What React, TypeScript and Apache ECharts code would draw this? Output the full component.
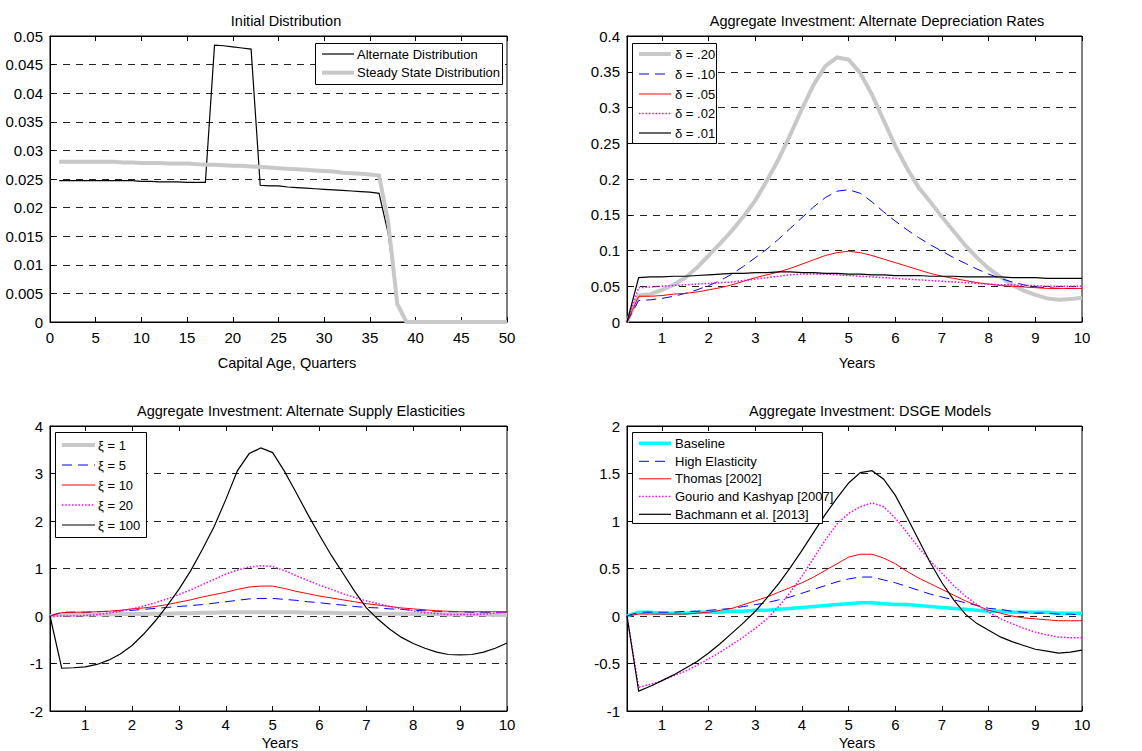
import React, { useEffect, useRef } from "react";
import * as echarts from "echarts";

const FONT = "'Liberation Sans', Arial, Helvetica, sans-serif";

// ---------- Panel 1: Initial Distribution ----------
const ages = [1,2,3,4,5,6,7,8,9,10,11,12,13,14,15,16,17,18,19,20,21,22,23,24,25,26,27,28,29,30,31,32,33,34,35,36,37,38,39,40,41,42,43,44,45,46,47,48,49,50];
const altDist = [0.0247,0.0247,0.0247,0.0247,0.0247,0.0247,0.0247,0.0247,0.0247,0.0246,0.0246,0.0245,0.0245,0.0245,0.0244,0.0244,0.0244,0.0484,0.0483,0.0481,0.0479,0.0477,0.0239,0.0238,0.0238,0.0236,0.0235,0.0234,0.0233,0.0232,0.0231,0.0230,0.0229,0.0228,0.0227,0.0225,0.0155,0.0030,0,0,0,0,0,0,0,0,0,0,0,0];
const ssDist = [0.0280,0.0280,0.0280,0.0280,0.0280,0.0280,0.0280,0.0279,0.0279,0.0278,0.0278,0.0278,0.0277,0.0277,0.0277,0.0276,0.0275,0.0275,0.0274,0.0273,0.0273,0.0272,0.0271,0.0270,0.0269,0.0268,0.0267,0.0266,0.0265,0.0264,0.0263,0.0261,0.0260,0.0259,0.0258,0.0256,0.0175,0.0031,0,0,0,0,0,0,0,0,0,0,0,0];

// ---------- Quarterly horizon (years) ----------
const years = [0.25,0.5,0.75,1,1.25,1.5,1.75,2,2.25,2.5,2.75,3,3.25,3.5,3.75,4,4.25,4.5,4.75,5,5.25,5.5,5.75,6,6.25,6.5,6.75,7,7.25,7.5,7.75,8,8.25,8.5,8.75,9,9.25,9.5,9.75,10];
const yearTicks = [1,2,3,4,5,6,7,8,9,10];

// ---------- Panel 2: Alternate Depreciation Rates ----------
const delta20 = [0,0.037,0.039,0.045,0.052,0.062,0.076,0.093,0.110,0.128,0.148,0.170,0.198,0.228,0.262,0.298,0.332,0.358,0.370,0.367,0.348,0.318,0.282,0.246,0.215,0.188,0.168,0.147,0.127,0.107,0.090,0.075,0.063,0.052,0.044,0.038,0.033,0.031,0.032,0.034];
const delta10 = [0,0.030,0.031,0.033,0.036,0.040,0.045,0.051,0.058,0.067,0.078,0.090,0.102,0.116,0.131,0.146,0.161,0.174,0.183,0.185,0.180,0.168,0.154,0.141,0.129,0.118,0.108,0.099,0.090,0.082,0.074,0.067,0.061,0.056,0.052,0.049,0.048,0.047,0.047,0.047];
const delta05 = [0,0.036,0.036,0.037,0.039,0.040,0.042,0.045,0.048,0.052,0.057,0.062,0.066,0.070,0.075,0.081,0.087,0.093,0.097,0.099,0.097,0.093,0.088,0.083,0.078,0.073,0.068,0.064,0.061,0.058,0.055,0.053,0.051,0.050,0.049,0.048,0.047,0.047,0.047,0.047];
const delta02 = [0,0.048,0.049,0.050,0.051,0.052,0.053,0.054,0.055,0.056,0.058,0.060,0.062,0.064,0.066,0.067,0.067,0.067,0.066,0.065,0.064,0.063,0.062,0.061,0.060,0.059,0.058,0.057,0.056,0.055,0.054,0.053,0.052,0.052,0.051,0.051,0.050,0.050,0.050,0.050];
const delta01 = [0,0.062,0.063,0.063,0.064,0.064,0.065,0.066,0.067,0.068,0.068,0.069,0.069,0.070,0.070,0.069,0.069,0.068,0.068,0.067,0.067,0.066,0.066,0.065,0.065,0.065,0.064,0.064,0.064,0.063,0.063,0.063,0.063,0.062,0.062,0.062,0.061,0.061,0.061,0.061];

// ---------- Panel 3: Alternate Supply Elasticities ----------
const xi1 = [0,0.03,0.03,0.03,0.03,0.03,0.04,0.04,0.04,0.05,0.05,0.06,0.06,0.07,0.07,0.08,0.08,0.08,0.08,0.08,0.08,0.08,0.07,0.07,0.07,0.06,0.06,0.06,0.05,0.05,0.05,0.04,0.04,0.04,0.03,0.03,0.03,0.03,0.02,0.02];
const xi5 = [0,0.08,0.08,0.08,0.09,0.10,0.11,0.12,0.14,0.16,0.18,0.20,0.22,0.24,0.27,0.30,0.33,0.36,0.37,0.37,0.35,0.33,0.30,0.28,0.25,0.23,0.20,0.18,0.17,0.15,0.14,0.12,0.11,0.10,0.09,0.09,0.08,0.08,0.08,0.08];
const xi10 = [0,0.07,0.08,0.08,0.09,0.10,0.12,0.15,0.17,0.20,0.24,0.29,0.34,0.40,0.45,0.50,0.56,0.61,0.63,0.63,0.58,0.52,0.47,0.42,0.38,0.34,0.30,0.26,0.23,0.20,0.17,0.15,0.13,0.11,0.10,0.09,0.09,0.09,0.09,0.09];
const xi20 = [0,0.0,0.0,0.01,0.03,0.06,0.10,0.15,0.21,0.28,0.36,0.45,0.55,0.66,0.77,0.88,0.97,1.03,1.06,1.04,0.96,0.85,0.75,0.65,0.56,0.47,0.39,0.32,0.26,0.20,0.15,0.11,0.07,0.05,0.03,0.03,0.03,0.04,0.06,0.08];
const xi100 = [0,-1.10,-1.09,-1.07,-1.02,-0.93,-0.80,-0.62,-0.38,-0.10,0.22,0.56,0.95,1.40,1.88,2.45,3.06,3.42,3.54,3.44,3.05,2.60,2.14,1.70,1.28,0.90,0.52,0.17,-0.07,-0.28,-0.45,-0.58,-0.68,-0.76,-0.81,-0.82,-0.81,-0.76,-0.68,-0.57];

// ---------- Panel 4: DSGE Models ----------
const baseline = [0,0.04,0.04,0.03,0.03,0.03,0.04,0.04,0.04,0.05,0.05,0.06,0.06,0.07,0.08,0.09,0.10,0.11,0.12,0.13,0.14,0.14,0.13,0.12,0.12,0.11,0.10,0.09,0.08,0.07,0.06,0.05,0.05,0.04,0.04,0.04,0.04,0.03,0.03,0.03];
const highElast = [0,0.04,0.04,0.04,0.04,0.05,0.05,0.06,0.07,0.08,0.10,0.12,0.14,0.17,0.20,0.24,0.28,0.32,0.36,0.39,0.41,0.41,0.38,0.35,0.31,0.27,0.23,0.20,0.17,0.14,0.11,0.08,0.07,0.05,0.04,0.03,0.03,0.02,0.02,0.01];
const thomas = [0,0.02,0.02,0.02,0.02,0.02,0.03,0.04,0.06,0.08,0.12,0.16,0.20,0.25,0.30,0.35,0.41,0.48,0.55,0.62,0.65,0.65,0.61,0.55,0.47,0.40,0.34,0.28,0.22,0.16,0.11,0.06,0.03,0.00,-0.02,-0.03,-0.04,-0.05,-0.05,-0.05];
const gourio = [0,-0.75,-0.72,-0.68,-0.63,-0.58,-0.52,-0.45,-0.38,-0.30,-0.22,-0.13,-0.03,0.10,0.25,0.42,0.61,0.80,0.97,1.08,1.15,1.19,1.15,1.03,0.88,0.72,0.58,0.45,0.32,0.21,0.12,0.04,-0.03,-0.08,-0.13,-0.17,-0.20,-0.22,-0.23,-0.23];
const bachmann = [0,-0.79,-0.74,-0.68,-0.62,-0.55,-0.48,-0.39,-0.29,-0.18,-0.07,0.05,0.19,0.34,0.51,0.69,0.88,1.07,1.24,1.40,1.51,1.53,1.44,1.27,1.04,0.80,0.56,0.35,0.17,0.02,-0.08,-0.15,-0.22,-0.27,-0.31,-0.35,-0.37,-0.39,-0.38,-0.36];

const GRAY = "#c8c8c8";
const BLUE = "#0000ff";
const RED = "#ff0000";
const MAG = "#ff00ff";
const BLK = "#000000";
const CYAN = "#00ffff";

type Sty = { color: string; width: number; dash: number[] | null };
const S_GRAY: Sty = { color: GRAY, width: 4, dash: null };
const S_BLUE: Sty = { color: BLUE, width: 1, dash: [10, 6] };
const S_RED: Sty = { color: RED, width: 1, dash: null };
const S_MAG: Sty = { color: MAG, width: 1.5, dash: [1.5, 1.8] };
const S_BLK: Sty = { color: BLK, width: 1.2, dash: null };
const S_CYAN: Sty = { color: CYAN, width: 3.5, dash: null };

function pairs(xs: number[], ys: number[]) {
  return xs.map((x, i) => [x, ys[i]]);
}

function line(name: string, g: number, xs: number[], ys: number[], s: Sty) {
  return {
    type: "line",
    name,
    xAxisIndex: g * 2,
    yAxisIndex: g,
    data: pairs(xs, ys),
    symbol: "none",
    showSymbol: false,
    silent: true,
    color: s.color,
    lineStyle: { color: s.color, width: s.width, type: s.dash ? [...s.dash] : "solid", cap: "butt", join: "miter" },
    itemStyle: { color: s.color },
    emphasis: { disabled: true },
  };
}

const grids = [
  { left: 50, top: 36, width: 457, height: 286 },
  { left: 627, top: 36, width: 455, height: 286 },
  { left: 50, top: 426, width: 457, height: 285 },
  { left: 627, top: 426, width: 455, height: 285 },
];

function xAxes(g: number, cfg: any) {
  const base = {
    gridIndex: g,
    type: "value",
    min: cfg.min,
    max: cfg.max,
    splitLine: { show: false },
    axisLine: { show: true, onZero: false, lineStyle: { color: "#000", width: 1 } },
  };
  const tickCommon: any = { show: true, inside: true, length: 5, lineStyle: { color: "#000", width: 1 } };
  if (cfg.custom) tickCommon.customValues = cfg.custom;
  const bottom: any = {
    ...base,
    position: "bottom",
    axisTick: { ...tickCommon },
    axisLabel: {
      show: true,
      color: "#000",
      fontSize: 15,
      fontFamily: FONT,
      margin: cfg.margin,
      showMinLabel: true,
      showMaxLabel: true,
    },
  };
  if (cfg.interval) bottom.interval = cfg.interval;
  if (cfg.custom) bottom.axisLabel.customValues = cfg.custom;
  const top: any = {
    ...base,
    position: "top",
    axisTick: { ...tickCommon },
    axisLabel: { show: false },
  };
  if (cfg.interval) top.interval = cfg.interval;
  return [bottom, top];
}

function yAxis(g: number, min: number, max: number, interval: number) {
  return {
    gridIndex: g,
    type: "value",
    min,
    max,
    interval,
    axisLine: { show: true, onZero: false, lineStyle: { color: "#000", width: 1 } },
    axisTick: { show: true, inside: true, length: 5, lineStyle: { color: "#000" } },
    axisLabel: { color: "#000", fontSize: 15, fontFamily: FONT, margin: 7 },
    splitLine: { show: true, lineStyle: { color: "#222", width: 1, type: [7, 6] } },
  };
}

// Boxed legend drawn as graphic elements (MATLAB-style)
function legendBox(
  items: [string, Sty][],
  box: { x: number; y: number; w: number; h: number },
  cys: number[],
  lx0: number,
  lx1: number,
  tx: number
) {
  const els: any[] = [
    {
      type: "rect",
      z: 50,
      silent: true,
      shape: { x: box.x + 0.5, y: box.y + 0.5, width: box.w, height: box.h },
      style: { fill: "#fff", stroke: "#000", lineWidth: 1 },
    },
  ];
  items.forEach(([name, s], i) => {
    const cy = cys[i];
    els.push({
      type: "line",
      z: 51,
      silent: true,
      shape: { x1: lx0, y1: cy, x2: lx1, y2: cy },
      style: { stroke: s.color, lineWidth: s.width, lineDash: s.dash ? [...s.dash] : null, lineCap: "butt" },
    });
    els.push({
      type: "text",
      z: 51,
      silent: true,
      x: tx,
      y: cy,
      style: {
        text: name,
        fill: "#000",
        fontSize: 13,
        fontFamily: FONT,
        textAlign: "left",
        textVerticalAlign: "middle",
      },
    });
  });
  return els;
}

function txt(text: string, x: number, y: number, size: number) {
  return {
    type: "text",
    x,
    y,
    silent: true,
    style: {
      text,
      fill: "#000",
      fontSize: size,
      fontFamily: FONT,
      textAlign: "center",
      textVerticalAlign: "middle",
    },
  };
}

export default function App() {
  const ref = useRef<HTMLDivElement>(null);
  useEffect(() => {
    if (!ref.current) return;
    const chart = echarts.init(ref.current, undefined, { renderer: "svg" });
    const xs = [
      ...xAxes(0, { min: 0, max: 50, interval: 5, margin: 8 }),
      ...xAxes(1, { min: 0.25, max: 10, custom: yearTicks, margin: 8 }),
      ...xAxes(2, { min: 0.25, max: 10, custom: yearTicks, margin: 6 }),
      ...xAxes(3, { min: 0.25, max: 10, custom: yearTicks, margin: 6 }),
    ];
    const p1: [string, Sty][] = [
      ["Alternate Distribution", S_BLK],
      ["Steady State Distribution", S_GRAY],
    ];
    const p2: [string, Sty][] = [
      ["δ = .20", S_GRAY],
      ["δ = .10", S_BLUE],
      ["δ = .05", S_RED],
      ["δ = .02", S_MAG],
      ["δ = .01", S_BLK],
    ];
    const p3: [string, Sty][] = [
      ["ξ = 1", S_GRAY],
      ["ξ = 5", S_BLUE],
      ["ξ = 10", S_RED],
      ["ξ = 20", S_MAG],
      ["ξ = 100", S_BLK],
    ];
    const p4: [string, Sty][] = [
      ["Baseline", S_CYAN],
      ["High Elasticity", S_BLUE],
      ["Thomas [2002]", S_RED],
      ["Gourio and Kashyap [2007]", S_MAG],
      ["Bachmann et al. [2013]", S_BLK],
    ];
    const mk = (p: [string, Sty][], g: number, xv: number[], ys: number[][]) =>
      p.map(([n, s], i) => line(n, g, xv, ys[i], s));

    const option: any = {
      animation: false,
      backgroundColor: "#fff",
      grid: grids.map((g) => ({ ...g, show: true, borderColor: "#000", borderWidth: 1, backgroundColor: "#fff" })),
      xAxis: xs,
      yAxis: [
        yAxis(0, 0, 0.05, 0.005),
        yAxis(1, 0, 0.4, 0.05),
        yAxis(2, -2, 4, 1),
        yAxis(3, -1, 2, 0.5),
      ],
      graphic: [
        txt("Initial Distribution", 286, 21, 14.5),
        txt("Aggregate Investment: Alternate Depreciation Rates", 877, 21, 14.5),
        txt("Aggregate Investment: Alternate Supply Elasticities", 301, 411, 14.5),
        txt("Aggregate Investment: DSGE Models", 870, 411, 14.5),
        txt("Capital Age, Quarters", 287, 363, 14.5),
        txt("Years", 857, 363, 14.5),
        txt("Years", 280, 743, 14.5),
        txt("Years", 857, 743, 14.5),
        ...legendBox(p1, { x: 315, y: 43, w: 187, h: 41 }, [54, 72.7], 322, 354, 357),
        ...legendBox(p2, { x: 632, y: 43, w: 84, h: 100 }, [54, 74, 94, 113.5, 133], 639, 671, 675),
        ...legendBox(p3, { x: 55, y: 432, w: 91, h: 105 }, [445, 465, 485, 505, 525], 62, 95, 98),
        ...legendBox(p4, { x: 632, y: 432, w: 190, h: 91 }, [443.3, 461.3, 478.8, 496.5, 514.3], 639, 671, 675),
      ],
      series: [
        ...mk(p1, 0, ages, [altDist, ssDist]),
        ...mk(p2, 1, years, [delta20, delta10, delta05, delta02, delta01]),
        ...mk(p3, 2, years, [xi1, xi5, xi10, xi20, xi100]),
        ...mk(p4, 3, years, [baseline, highElast, thomas, gourio, bachmann]),
      ],
    };
    chart.setOption(option);
    return () => chart.dispose();
  }, []);
  return (
    <div
      ref={ref}
      style={{ position: "absolute", left: 0, top: 0, width: 1142, height: 751, background: "#fff" }}
    />
  );
}
